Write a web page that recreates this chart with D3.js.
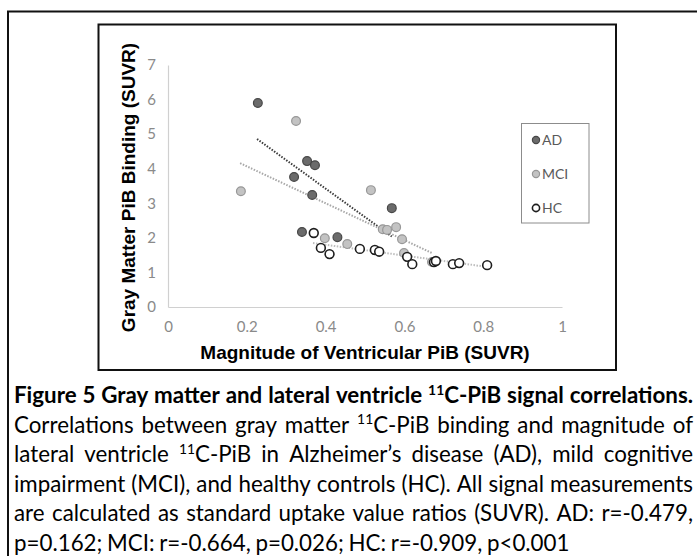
<!DOCTYPE html>
<html>
<head>
<meta charset="utf-8">
<script src="https://cdn.jsdelivr.net/npm/d3@7"></script>
<style>
  body { margin: 0; background: #fff; }
</style>
</head>
<body>
<svg id="chart" width="697" height="556"></svg>
<script>
// Values: [ventricular PiB SUVR, gray matter PiB SUVR]
const adPoints = [[0.228, 5.90], [0.353, 4.22], [0.373, 4.10], [0.320, 3.76], [0.366, 3.24],
                  [0.568, 2.86], [0.340, 2.17], [0.430, 2.02]];
const mciPoints = [[0.185, 3.35], [0.325, 5.38], [0.515, 3.38], [0.579, 2.31], [0.545, 2.25],
                   [0.556, 2.23], [0.594, 1.96], [0.599, 1.56], [0.398, 1.99], [0.455, 1.82],
                   [0.670, 1.30]];
const hcPoints = [[0.370, 2.14], [0.388, 1.71], [0.410, 1.53], [0.487, 1.68], [0.525, 1.65],
                  [0.536, 1.60], [0.607, 1.45], [0.620, 1.24], [0.675, 1.30], [0.680, 1.33],
                  [0.723, 1.24], [0.739, 1.27], [0.810, 1.21]];

// Linear trendline end points as drawn
const adTrend = [[0.226, 4.86], [0.568, 2.04]];
const mciTrend = [[0.183, 4.16], [0.670, 1.56]];
const hcTrend = [[0.368, 1.85], [0.810, 1.16]];

const xTicks = [0, 0.2, 0.4, 0.6, 0.8, 1];
const yTicks = [0, 1, 2, 3, 4, 5, 6, 7];
const seriesNames = ["AD", "MCI", "HC"];

const xTitle = "Magnitude of Ventricular PiB (SUVR)";
const yTitle = "Gray Matter PiB Binding (SUVR)";

// ^11 marks a superscript
const captionLines = [
    "Figure 5 Gray matter and lateral ventricle ^11C-PiB signal correlations.",
    "Correlations between gray matter ^11C-PiB binding and magnitude of",
    "lateral ventricle ^11C-PiB in Alzheimer’s disease (AD), mild cognitive",
    "impairment (MCI), and healthy controls (HC). All signal measurements",
    "are calculated as standard uptake value ratios (SUVR). AD: r=-0.479,",
    "p=0.162; MCI: r=-0.664, p=0.026; HC: r=-0.909, p<0.001"
];

const svg = d3.select("#chart");

// Outer figure frame and inner chart frame
svg.append("rect")
    .attr("x", 8).attr("y", 11.5).attr("width", 720).attr("height", 600)
    .attr("fill", "none").attr("stroke", "#111").attr("stroke-width", 2);
svg.append("rect")
    .attr("x", 98.5).attr("y", 24.5).attr("width", 517.5).attr("height", 345.5)
    .attr("fill", "none").attr("stroke", "#111").attr("stroke-width", 2);

const x = d3.scaleLinear().domain([0, 1]).range([168, 562]);
const y = d3.scaleLinear().domain([0, 7]).range([307, 65]);

const tickFont = "Lato, 'Open Sans', sans-serif";

// Axes
const xAxis = svg.append("g")
    .attr("transform", `translate(0,${y(0)})`)
    .call(d3.axisBottom(x).tickValues(xTicks).tickFormat(d3.format("~g"))
        .tickSize(0).tickPadding(14));
const yAxis = svg.append("g")
    .attr("transform", `translate(${x(0)},0)`)
    .call(d3.axisLeft(y).tickValues(yTicks).tickFormat(d3.format("d"))
        .tickSize(0).tickPadding(12));

[xAxis, yAxis].forEach(a => {
    a.select(".domain").attr("stroke", "#d0d0d0").attr("stroke-width", 1.2);
    a.selectAll("text")
        .attr("fill", "#8a8a8a")
        .style("font-family", tickFont)
        .style("font-size", "15px");
});

// Axis titles
svg.append("text")
    .attr("x", (x(0) + x(1)) / 2)
    .attr("y", 359)
    .attr("text-anchor", "middle")
    .style("font-family", "'Liberation Sans', Arial, sans-serif")
    .style("font-weight", "bold")
    .style("font-size", "19px")
    .attr("fill", "#000")
    .text(xTitle);

svg.append("text")
    .attr("transform", `translate(135,${(42 + 333) / 2}) rotate(-90)`)
    .attr("text-anchor", "middle")
    .style("font-family", "'Liberation Sans', Arial, sans-serif")
    .style("font-weight", "bold")
    .style("font-size", "19px")
    .attr("fill", "#000")
    .text(yTitle);

// Series styling
const styles = {
    AD:  { fill: "#6b6b6b", stroke: "#474747", sw: 1.2, line: "#3c3c3c" },
    MCI: { fill: "#c3c3c3", stroke: "#979797", sw: 1.2, line: "#a8a8a8" },
    HC:  { fill: "#ffffff", stroke: "#1e1e1e", sw: 1.6, line: "#bdbdbd" }
};

const line = d3.line().x(d => x(d[0])).y(d => y(d[1]));

// Trendlines (dotted)
[["AD", adTrend], ["MCI", mciTrend], ["HC", hcTrend]].forEach(([name, pts]) => {
    svg.append("path")
        .datum(pts)
        .attr("d", line)
        .attr("fill", "none")
        .attr("stroke", styles[name].line)
        .attr("stroke-width", 2)
        .attr("stroke-dasharray", "1.5,1.5");
});

// Markers
[["AD", adPoints], ["MCI", mciPoints], ["HC", hcPoints]].forEach(([name, pts]) => {
    const s = styles[name];
    svg.append("g").selectAll("circle")
        .data(pts)
        .enter().append("circle")
        .attr("cx", d => x(d[0]))
        .attr("cy", d => y(d[1]))
        .attr("r", 4.4)
        .attr("fill", s.fill)
        .attr("stroke", s.stroke)
        .attr("stroke-width", s.sw);
});

// Legend
const legend = svg.append("g");
legend.append("rect")
    .attr("x", 521.5).attr("y", 123.5).attr("width", 67.5).attr("height", 99.5)
    .attr("fill", "#fff").attr("stroke", "#8c8c8c").attr("stroke-width", 1);

const legendY = d3.scalePoint().domain(seriesNames).range([140, 208]);
const item = legend.selectAll(".item")
    .data(seriesNames)
    .enter().append("g")
    .attr("class", "item")
    .attr("transform", d => `translate(536,${legendY(d)})`);
item.append("circle")
    .attr("r", 3.6)
    .attr("fill", d => styles[d].fill)
    .attr("stroke", d => styles[d].stroke)
    .attr("stroke-width", d => styles[d].sw);
item.append("text")
    .attr("x", 6)
    .attr("dy", "0.36em")
    .style("font-family", tickFont)
    .style("font-size", "14px")
    .attr("fill", "#595959")
    .text(d => d);

// Caption, justified between the left and right margins
const capFont = "Lato, 'Open Sans', sans-serif";
const capLeft = 14, capRight = 693;
const capTop = 403, capStep = 29.6;

function addWord(g, word, fs, bold) {
    const t = g.append("text")
        .style("font-family", capFont)
        .style("font-size", fs + "px")
        .style("font-weight", bold ? 700 : 400)
        .attr("fill", "#000");
    const parts = word.split(/(\^\d+)/).filter(p => p.length);
    let raised = false;
    parts.forEach(p => {
        if (p.startsWith("^")) {
            t.append("tspan")
                .attr("dy", -fs * 0.38)
                .style("font-size", (fs * 0.62) + "px")
                .text(p.slice(1));
            raised = true;
        } else {
            t.append("tspan")
                .attr("dy", raised ? fs * 0.38 : 0)
                .text(p);
            raised = false;
        }
    });
    return t;
}

// Size the font so the tightest body line (line 4) just fills the width with normal spaces
const probe = addWord(svg.append("g"), captionLines[3].replace(/ /g, "\u00a0"), 20, false);
const capSize = 20 * (capRight - capLeft - 4) / probe.node().getComputedTextLength();
probe.node().parentNode.remove();

captionLines.forEach((ln, i) => {
    const g = svg.append("g").attr("transform", `translate(0,${capTop + i * capStep})`);
    const bold = i === 0;
    const words = ln.split(" ");
    const nodes = words.map(w => addWord(g, w, capSize, bold));
    const widths = nodes.map(n => n.node().getComputedTextLength());
    const total = d3.sum(widths);
    const justify = i < captionLines.length - 1;
    const spaceW = capSize * 0.21;
    let gap = justify ? (capRight - capLeft - total) / (words.length - 1) : spaceW;
    let cx = capLeft;
    nodes.forEach((n, k) => {
        n.attr("x", cx);
        cx += widths[k] + gap;
    });
});
</script>
</body>
</html>
